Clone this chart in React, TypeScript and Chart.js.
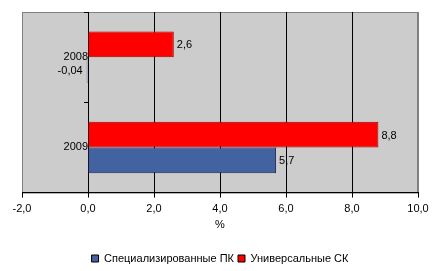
import React, { useEffect, useRef } from "react";
import { Chart, registerables } from "chart.js";

Chart.register(...registerables);

const categories = ["2008", "2009"];
const seriesNames = ["Специализированные ПК", "Универсальные СК"];
const specValues = [-0.04, 5.7];
const univValues = [2.6, 8.8];
const xTicks = [-2, 0, 2, 4, 6, 8, 10];

const FONT = "'Liberation Sans', Arial, sans-serif";

const bgPlugin = {
  id: "plotBg",
  beforeDraw(chart: any) {
    const { ctx, chartArea: a } = chart;
    ctx.save();
    ctx.fillStyle = "#CCCCCC";
    ctx.fillRect(a.left, a.top, a.right - a.left, a.bottom - a.top);
    ctx.strokeStyle = "#808080";
    ctx.lineWidth = 1;
    ctx.strokeRect(a.left + 0.5, a.top + 0.5, a.right - a.left - 1, a.bottom - a.top);
    ctx.restore();
  },
};

const labelPlugin = {
  id: "valLabels",
  afterDatasetsDraw(chart: any) {
    const { ctx } = chart;
    ctx.save();
    ctx.font = `11px ${FONT}`;
    ctx.fillStyle = "#000";
    ctx.textBaseline = "middle";
    chart.data.datasets.forEach((ds: any, i: number) => {
      const meta = chart.getDatasetMeta(i);
      meta.data.forEach((el: any, j: number) => {
        const v = ds.data[j];
        const txt = String(v).replace(".", ",");
        if (v >= 0) {
          ctx.textAlign = "left";
          ctx.fillText(txt, el.x + 3, el.y + 1);
        } else {
          ctx.textAlign = "right";
          ctx.fillText(txt, el.x - 4, el.y + 1);
        }
      });
    });
    ctx.restore();
  },
};

export default function App() {
  const ref = useRef<HTMLCanvasElement>(null);
  useEffect(() => {
    const chart = new Chart(ref.current!, {
      type: "bar",
      data: {
        labels: categories,
        datasets: [
          {
            label: seriesNames[1],
            data: univValues,
            backgroundColor: "#FF0000",
            borderColor: "#A00000",
            borderWidth: 1,
            barPercentage: 1,
            categoryPercentage: 0.57,
          },
          {
            label: seriesNames[0],
            data: specValues,
            backgroundColor: "#4262A0",
            borderColor: "#202050",
            borderWidth: 1,
            barPercentage: 1,
            categoryPercentage: 0.57,
          },
        ],
      },
      options: {
        indexAxis: "y",
        responsive: false,
        animation: false,
        layout: { padding: { left: 22, right: 22, top: 12, bottom: -3 } },
        scales: {
          x: {
            type: "linear",
            min: -2,
            max: 10,
            afterBuildTicks: (s: any) => {
              s.ticks = xTicks.map((v) => ({ value: v }));
            },
            ticks: {
              color: "#000",
              font: { family: FONT, size: 11 },
              padding: 5,
              callback: (v: any) => Number(v).toFixed(1).replace(".", ","),
            },
            grid: {
              color: (c: any) =>
                c.tick && (c.tick.value === -2 || c.tick.value === 10) ? "#808080" : "#000",
              tickColor: "#000",
              tickLength: 5,
              lineWidth: 1,
            },
            border: { color: "#000" },
            title: {
              display: true,
              text: "%",
              color: "#000",
              font: { family: FONT, size: 11 },
              padding: { top: -2, bottom: 17 },
            },
          },
          y: {
            type: "category",
            position: { x: 0 } as any,
            offset: true,
            ticks: {
              color: "#000",
              font: { family: FONT, size: 11 },
              padding: 3,
            },
            grid: {
              drawOnChartArea: false,
              offset: true,
              tickLength: 4,
              color: "#000",
            },
            border: { color: "#000" },
          },
        },
        plugins: {
          legend: {
            position: "bottom",
            reverse: true,
            labels: {
              boxWidth: 7,
              boxHeight: 7,
              color: "#000",
              font: { family: FONT, size: 11 },
              padding: 4,
              generateLabels: (c: any) => {
                const items = Chart.defaults.plugins.legend.labels.generateLabels(c);
                return items.map((it: any) => ({ ...it, strokeStyle: "#000", lineWidth: 1 }));
              },
            },
          },
          tooltip: { enabled: false },
        },
      },
      plugins: [bgPlugin, labelPlugin],
    } as any);
    return () => chart.destroy();
  }, []);
  return (
    <div style={{ position: "fixed", left: 0, top: 0, width: 440, height: 271, background: "#fff" }}>
      <canvas ref={ref} width={440} height={271} style={{ width: 440, height: 271 }} />
    </div>
  );
}
